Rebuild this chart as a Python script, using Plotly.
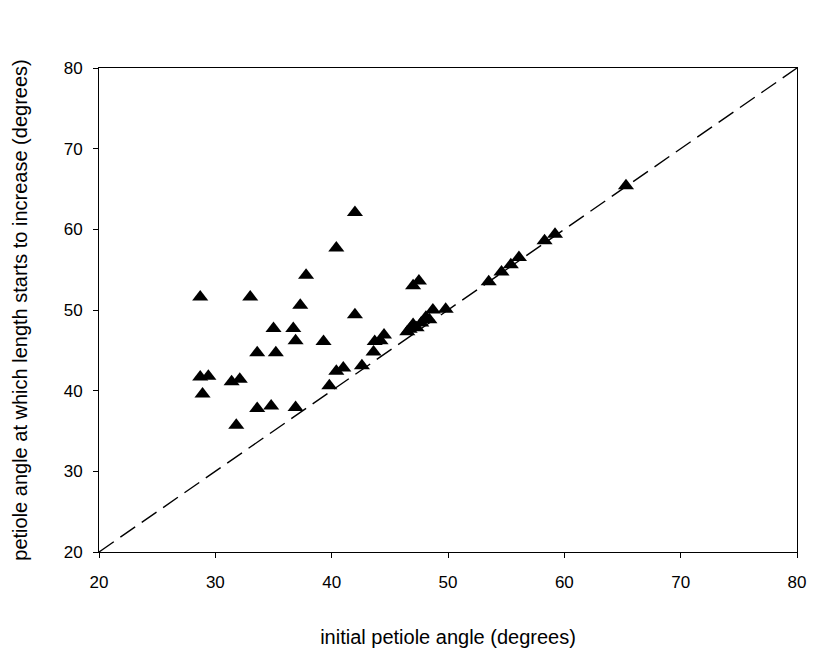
import plotly.graph_objects as go

initial_angle = [28.7, 33.0, 37.3, 42.0, 35.0, 36.7, 36.9, 39.3, 33.6, 35.2,
                 28.7, 29.4, 31.4, 32.1, 28.9, 33.6, 34.8, 36.9, 31.8,
                 39.8, 40.4, 41.0, 42.6, 43.6, 43.7, 44.2, 44.5,
                 42.0, 40.4, 37.8,
                 47.0, 47.5,
                 46.5, 46.7, 47.0, 47.3, 47.7, 48.1, 48.4, 48.7, 49.8,
                 53.5, 54.6, 55.4, 56.1, 58.3, 59.2, 65.3]
angle_at_increase = [51.6, 51.6, 50.6, 49.4, 47.7, 47.7, 46.2, 46.1, 44.7, 44.7,
                     41.7, 41.8, 41.1, 41.4, 39.6, 37.8, 38.1, 37.9, 35.7,
                     40.6, 42.4, 42.8, 43.1, 44.8, 46.1, 46.2, 46.9,
                     62.1, 57.7, 54.3,
                     53.0, 53.6,
                     47.3, 47.6, 48.2, 47.8, 48.4, 49.1, 48.8, 50.0, 50.1,
                     53.5, 54.7, 55.6, 56.5, 58.6, 59.4, 65.4]
identity_line = [20, 80]
tick_values = [20, 30, 40, 50, 60, 70, 80]

x_title = "initial petiole angle (degrees)"
y_title = "petiole angle at which length starts to increase (degrees)"
FONT = "Liberation Sans, Arial, sans-serif"

fig = go.Figure()
fig.add_trace(go.Scatter(
    x=identity_line, y=identity_line, mode="lines",
    line=dict(color="black", width=1.4, dash="18px,8px"),
    hoverinfo="skip", showlegend=False))
fig.add_trace(go.Scatter(
    x=initial_angle, y=angle_at_increase, mode="markers",
    marker=dict(symbol="triangle-up", size=14, color="black", line=dict(width=0)),
    showlegend=False))

axis_common = dict(
    range=[20, 80], tickvals=tick_values, showgrid=False, zeroline=False,
    showline=True, linecolor="black", linewidth=1, mirror=True,
    ticks="outside", ticklen=5, tickcolor="black", tickwidth=1,
    tickfont=dict(family=FONT, size=17, color="black"),
)
fig.update_xaxes(**axis_common, ticklabelstandoff=10,
                 title=dict(text=x_title, standoff=38,
                            font=dict(family=FONT, size=20, color="black")))
fig.update_yaxes(**axis_common, ticklabelstandoff=7,
                 title=dict(text=y_title, standoff=30,
                            font=dict(family=FONT, size=20, color="black")))
fig.update_layout(
    width=837, height=664,
    margin=dict(l=84, r=48, t=60, b=120),
    plot_bgcolor="white", paper_bgcolor="white",
)
fig.write_html("out.html")
